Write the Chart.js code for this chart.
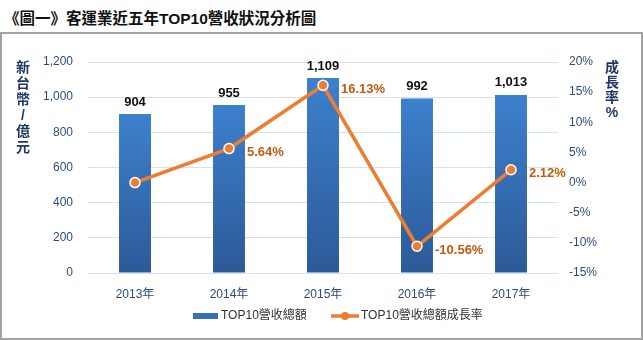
<!DOCTYPE html>
<html lang="zh-Hant">
  <head>
    <meta charset="UTF-8" />
    <title>客運業近五年TOP10營收狀況分析圖</title>
    <script src="https://cdn.jsdelivr.net/npm/chart.js@4.4.0/dist/chart.umd.min.js"></script>
    <style>
      body { margin: 0; background: #fff; }
      #title {
        position: absolute; left: 4px; top: 6px;
        font: bold 15.5px "Liberation Sans", "Noto Sans CJK TC", sans-serif;
        color: #111; white-space: nowrap;
      }
      #frame {
        position: absolute; left: 0; top: 32px; width: 643px; height: 308px;
        box-sizing: border-box; border: 2px solid #a3a3a3;
      }
      #wrap { position: absolute; left: 0; top: 0; width: 643px; height: 340px; }
    </style>
  </head>
  <body>
    <div id="title">《圖一》客運業近五年TOP10營收狀況分析圖</div>
    <div id="frame"></div>
    <div id="wrap">
      <canvas id="myChart" width="643" height="340"></canvas>
    </div>

    <script>
      // data
      const years = ["2013年", "2014年", "2015年", "2016年", "2017年"];
      const revenue = [904, 955, 1109, 992, 1013];          // 新台幣/億元
      const growth = [0, 5.64, 16.13, -10.56, 2.12];        // %
      const growthLabels = ["", "5.64%", "16.13%", "-10.56%", "2.12%"];
      const revenueName = "TOP10營收總額";
      const growthName = "TOP10營收總額成長率";

      const FONT = '"Liberation Sans", "Noto Sans CJK TC", sans-serif';
      const tickColor = "#2f4b7c";
      const orange = "#ed7d31";

      function barGradient(ctx) {
        const chart = ctx.chart;
        if (!chart.chartArea || !chart.scales.y) return "#3a7cc8";
        const top = chart.scales.y.getPixelForValue(ctx.raw);
        const bottom = chart.chartArea.bottom;
        const g = chart.ctx.createLinearGradient(0, top, 0, bottom);
        g.addColorStop(0, "#3d80cd");
        g.addColorStop(1, "#2c5a98");
        return g;
      }

      // labels, axis titles and legend drawn on canvas
      const extras = {
        id: "extras",
        afterDatasetsDraw(chart) {
          const c = chart.ctx;
          c.save();
          // bar values (dataset 1)
          c.font = "bold 13px " + FONT;
          c.fillStyle = "#111";
          c.textAlign = "center";
          c.textBaseline = "middle";
          chart.getDatasetMeta(1).data.forEach((bar, i) => {
            c.fillText(revenue[i].toLocaleString("en-US"), bar.x, bar.y - 12);
          });
          // growth values (dataset 0)
          c.fillStyle = "#c55a11";
          c.textAlign = "left";
          chart.getDatasetMeta(0).data.forEach((pt, i) => {
            if (growthLabels[i]) c.fillText(growthLabels[i], pt.x + 18, pt.y + 4);
          });

          // axis titles (stacked characters)
          c.font = "bold 14px " + FONT;
          c.fillStyle = "#1f3864";
          c.textAlign = "center";
          "新台幣/億元".split("").forEach((ch, i) => c.fillText(ch, 23, 68 + i * 16));
          "成長率%".split("").forEach((ch, i) => c.fillText(ch, 612, 68 + i * 15));

          // legend
          const ly = 316;
          c.fillStyle = "#3470b8";
          c.fillRect(193, ly - 3, 25, 6);
          c.strokeStyle = orange;
          c.lineWidth = 3.5;
          c.beginPath();
          c.moveTo(331, ly);
          c.lineTo(359, ly);
          c.stroke();
          c.beginPath();
          c.arc(345, ly, 4, 0, Math.PI * 2);
          c.fillStyle = orange;
          c.fill();
          c.font = "12px " + FONT;
          c.fillStyle = "#333";
          c.textAlign = "left";
          c.fillText(revenueName, 221, ly);
          c.fillText(growthName, 361, ly);
          c.restore();
        },
      };

      const ctx = document.getElementById("myChart").getContext("2d");
      const myChart = new Chart(ctx, {
        data: {
          labels: years,
          datasets: [
            {
              type: "line",
              label: growthName,
              data: growth,
              yAxisID: "y1",
              borderColor: orange,
              borderWidth: 3.5,
              pointRadius: 5,
              pointBackgroundColor: orange,
              pointBorderColor: "#fff",
              pointBorderWidth: 1.5,
              tension: 0,
              order: 1,
            },
            {
              type: "bar",
              label: revenueName,
              data: revenue,
              yAxisID: "y",
              backgroundColor: barGradient,
              categoryPercentage: 1,
              barPercentage: 0.34,
              order: 2,
            },
          ],
        },
        options: {
          responsive: false,
          animation: false,
          layout: { padding: { top: 62, left: 0, right: 0, bottom: 0 } },
          plugins: { legend: { display: false }, tooltip: { enabled: false } },
          scales: {
            x: {
              grid: { display: false },
              border: { display: false },
              ticks: { color: tickColor, font: { size: 12, family: FONT }, padding: 6 },
              afterFit(scale) { scale.height = 67; },
            },
            y: {
              position: "left",
              min: 0,
              max: 1200,
              ticks: {
                stepSize: 200,
                color: tickColor,
                font: { size: 12, family: FONT },
                padding: 15,
                callback: (v) => v.toLocaleString("en-US"),
              },
              grid: { color: "#d6e0ef", lineWidth: 1, drawTicks: false },
              border: { display: false },
              afterFit(scale) { scale.width = 88; },
            },
            y1: {
              position: "right",
              min: -15,
              max: 20,
              ticks: {
                stepSize: 5,
                color: tickColor,
                font: { size: 12, family: FONT },
                padding: 11,
                callback: (v) => v + "%",
              },
              grid: { display: false, drawTicks: false },
              border: { display: false },
              afterFit(scale) { scale.width = 85; },
            },
          },
        },
        plugins: [extras],
      });
    </script>
  </body>
</html>
